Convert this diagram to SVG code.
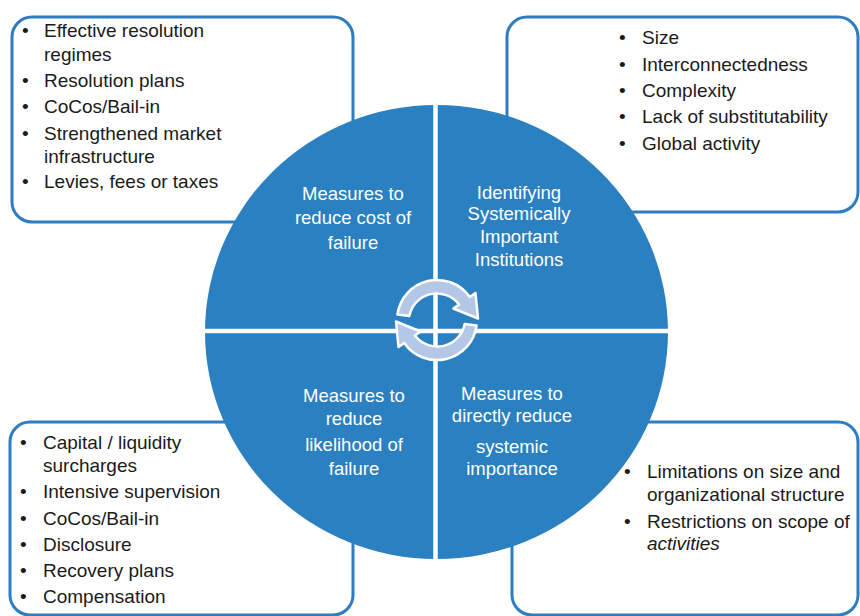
<svg xmlns="http://www.w3.org/2000/svg" width="860" height="616" viewBox="0 0 860 616">
<style>
.box{fill:#fff;stroke:#2e7dc0;stroke-width:3}
.item{font-family:"Liberation Sans",Arial,sans-serif;font-size:19px;fill:#1a1a1a}
.lbl{font-family:"Liberation Sans",Arial,sans-serif;font-size:18.5px;fill:#fff;text-anchor:middle}
.div{stroke:#fff;stroke-width:4.5}
.arr{fill:#b4c7e7;stroke:#fff;stroke-width:2.5;stroke-linejoin:round}
</style>
<rect width="860" height="616" fill="#fff"/>
<g id="box-top-left">
<rect class="box" x="12" y="17" width="341" height="205" rx="20"/>
<g class="item">
<text x="22" y="37">•</text><text x="44" y="37">Effective resolution</text>
<text x="44" y="61">regimes</text>
<text x="22" y="87">•</text><text x="44" y="87">Resolution plans</text>
<text x="22" y="113">•</text><text x="44" y="113">CoCos/Bail-in</text>
<text x="22" y="140">•</text><text x="44" y="140">Strengthened market</text>
<text x="44" y="163">infrastructure</text>
<text x="22" y="188">•</text><text x="44" y="188">Levies, fees or taxes</text>
</g>
</g>
<g id="box-top-right">
<rect class="box" x="507" y="17" width="351" height="195" rx="20"/>
<g class="item">
<text x="619" y="44">•</text><text x="642" y="44">Size</text>
<text x="619" y="71">•</text><text x="642" y="71">Interconnectedness</text>
<text x="619" y="97">•</text><text x="642" y="97">Complexity</text>
<text x="619" y="123">•</text><text x="642" y="123">Lack of substitutability</text>
<text x="619" y="150">•</text><text x="642" y="150">Global activity</text>
</g>
</g>
<g id="box-bottom-left">
<rect class="box" x="10" y="422" width="343" height="193" rx="20"/>
<g class="item">
<text x="20" y="449">•</text><text x="43" y="449">Capital / liquidity</text>
<text x="43" y="472">surcharges</text>
<text x="20" y="498">•</text><text x="43" y="498">Intensive supervision</text>
<text x="20" y="525">•</text><text x="43" y="525">CoCos/Bail-in</text>
<text x="20" y="551">•</text><text x="43" y="551">Disclosure</text>
<text x="20" y="577">•</text><text x="43" y="577">Recovery plans</text>
<text x="20" y="603">•</text><text x="43" y="603">Compensation</text>
</g>
</g>
<g id="box-bottom-right">
<rect class="box" x="512" y="422" width="346" height="193" rx="20"/>
<g class="item">
<text x="624" y="478">•</text><text x="647" y="478">Limitations on size and</text>
<text x="647" y="501">organizational structure</text>
<text x="624" y="528">•</text><text x="647" y="528">Restrictions on scope of</text>
<text x="647" y="550" font-style="italic">activities</text>
</g>
</g>
<g id="circle">
<ellipse cx="436.5" cy="332" rx="231.5" ry="227" fill="#2a80c0"/>
<line class="div" x1="435.5" y1="100" x2="435.5" y2="565"/>
<line class="div" x1="200" y1="331" x2="672" y2="331"/>
</g>
<g id="q-top-left" class="lbl">
<text x="353" y="200">Measures to</text>
<text x="353" y="224">reduce cost of</text>
<text x="353" y="249">failure</text>
</g>
<g id="q-top-right" class="lbl">
<text x="519" y="199">Identifying</text>
<text x="519" y="220">Systemically</text>
<text x="519" y="243">Important</text>
<text x="519" y="266">Institutions</text>
</g>
<g id="q-bottom-left" class="lbl">
<text x="354" y="402">Measures to</text>
<text x="354" y="425">reduce</text>
<text x="354" y="451">likelihood of</text>
<text x="354" y="475">failure</text>
</g>
<g id="q-bottom-right" class="lbl">
<text x="512" y="400">Measures to</text>
<text x="512" y="422">directly reduce</text>
<text x="512" y="453">systemic</text>
<text x="512" y="475">importance</text>
</g>
<g id="connectors">
<path class="arr" d="M397.4,314.4 A40,40 0 0 1 469.8,297 L475.5,293 L478,318.5 L453.4,308.5 L459.1,304.5 A28,28 0 0 0 409.3,316.1 Z"/>
<path class="arr" d="M476.6,325.6 A40,40 0 0 1 404.2,343 L398.5,347 L396,321.5 L420.6,331.5 L414.9,335.5 A28,28 0 0 0 464.7,323.9 Z"/>
</g>
</svg>
